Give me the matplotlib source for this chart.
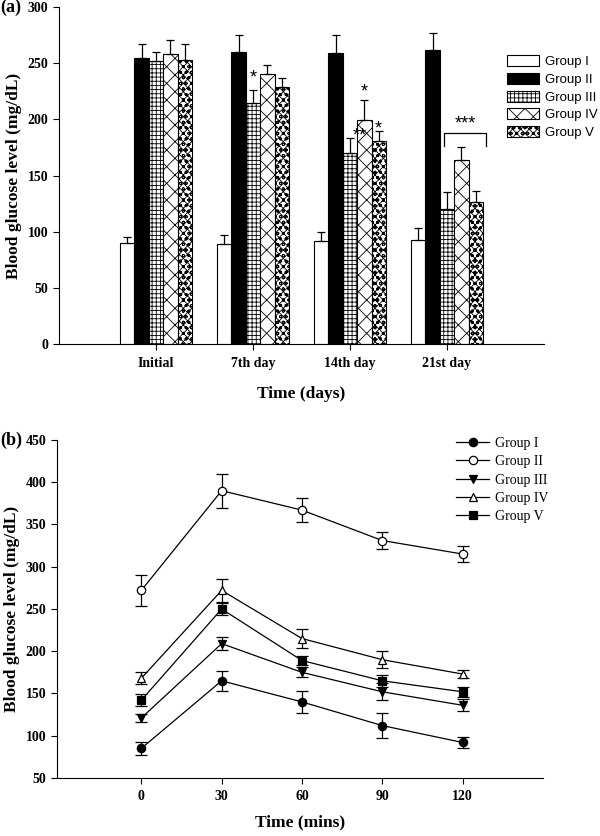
import matplotlib
matplotlib.use("Agg")
import matplotlib.pyplot as plt
import numpy as np
from matplotlib.patches import Patch
from matplotlib.lines import Line2D

# ---------------- data (a) ----------------
days = ["Initial", "7th day", "14th day", "21st day"]
groups = ["Group I", "Group II", "Group III", "Group IV", "Group V"]
bar_g1 = [90, 89, 92, 93]
bar_g2 = [255, 260, 259, 262]
bar_g3 = [252, 215, 170, 120]
bar_g4 = [258, 240, 199, 164]
bar_g5 = [253, 229, 181, 126]
err_g1 = [5, 8, 8, 10]
err_g2 = [12, 15, 16, 15]
err_g3 = [8, 11, 13, 15]
err_g4 = [13, 8, 18, 11]
err_g5 = [14, 8, 9, 10]

# ---------------- data (b) ----------------
times = [0, 30, 60, 90, 120]
ln_g1 = [85, 165, 140, 112, 92]
ln_g2 = [272, 390, 367, 331, 315]
ln_g3 = [121, 209, 175, 152, 136]
ln_g4 = [168, 272, 215, 190, 173]
ln_g5 = [142, 250, 189, 165, 152]
le_g1 = [8, 12, 13, 15, 6]
le_g2 = [18, 20, 14, 10, 9]
le_g3 = [5, 8, 6, 10, 7]
le_g4 = [7, 14, 11, 10, 5]
le_g5 = [7, 7, 5, 7, 6]

serif = "Liberation Serif"
sans = "Liberation Sans"
plt.rcParams["hatch.linewidth"] = 0.6

fig = plt.figure(figsize=(6, 8.36), dpi=100)

# ================= panel (a) =================
axA = fig.add_axes([0.0983, 0.5885, 0.8084, 0.4031])
bar_vals = [bar_g1, bar_g2, bar_g3, bar_g4, bar_g5]
bar_errs = [err_g1, err_g2, err_g3, err_g4, err_g5]
faces = ["white", "black", "white", "white", "white"]
hatches = [None, None, "++++", "xx", "xxxxooo"]
bw = 0.148
xc = np.arange(1, len(days) + 1)
handles = []
for i in range(5):
    xs = xc + (i - 2) * bw
    axA.bar(xs, bar_vals[i], width=bw, color=faces[i], edgecolor="black",
            hatch=hatches[i], linewidth=0.8, zorder=2)
    axA.errorbar(xs, bar_vals[i], yerr=[np.zeros(4), bar_errs[i]], fmt="none",
                 ecolor="black", elinewidth=0.9, capsize=3, capthick=0.9, zorder=3)
    handles.append(Patch(facecolor=faces[i], edgecolor="black", hatch=hatches[i],
                         linewidth=0.8, label=groups[i]))

axA.set_xlim(0, 5)
axA.set_ylim(0, 300)
axA.set_yticks(np.arange(0, 301, 50))
axA.set_xticks(xc)
axA.set_xticklabels(days)
for s in ["top", "right"]:
    axA.spines[s].set_visible(False)
for lab in axA.get_xticklabels() + axA.get_yticklabels():
    lab.set_fontfamily(serif)
    lab.set_fontweight("bold")
    lab.set_fontsize(10)
axA.tick_params(axis="x", pad=5, length=4)
axA.tick_params(axis="y", length=4)
axA.set_xlabel("Time (days)", fontfamily=serif, fontweight="bold", fontsize=12.5, labelpad=12)
axA.set_ylabel("Blood glucose level (mg/dL)", fontfamily=serif, fontweight="bold", fontsize=12.5, labelpad=4)

# significance marks
star_kw = dict(ha="center", va="bottom", fontsize=13, fontfamily=sans)
axA.text(2 + 0 * bw, 229, "*", **star_kw)
axA.text(3 + 0.1, 178, "**", **star_kw)
axA.text(3 + 1 * bw, 217, "*", **star_kw)
axA.text(3 + 2 * bw, 184, "*", **star_kw)
axA.plot([4 - 0.03, 4 - 0.03, 4 + 0.4, 4 + 0.4], [176, 188, 188, 176], color="black", lw=0.9)
axA.text(4 + 0.185, 188, "***", **star_kw)

legA = fig.legend(handles=handles, loc="upper left", bbox_to_anchor=(507 / 600, 1 - 55 / 836),
                  frameon=False, prop={"family": sans, "size": 9.5}, handlelength=2.4,
                  handleheight=0.9, labelspacing=0.36, handletextpad=0.5, borderpad=0,
                  borderaxespad=0)

fig.text(0.0, 0.9916, "(a)", fontfamily=serif, fontweight="bold", fontsize=13, va="center", ha="left")

# ================= panel (b) =================
axB = fig.add_axes([0.0945, 0.0694, 0.8105, 0.4043])
ln_vals = [ln_g1, ln_g2, ln_g3, ln_g4, ln_g5]
ln_errs = [le_g1, le_g2, le_g3, le_g4, le_g5]
markers = ["o", "o", "v", "^", "s"]
mfaces = ["black", "white", "black", "white", "black"]
lhandles = []
for i in range(5):
    axB.errorbar(times, ln_vals[i], yerr=ln_errs[i], color="black", lw=0.9,
                 marker=markers[i], markersize=6, markerfacecolor=mfaces[i],
                 markeredgecolor="black", markeredgewidth=0.9,
                 ecolor="black", elinewidth=0.9, capsize=4, capthick=0.9, zorder=3)
    lhandles.append(Line2D([0], [0], color="black", lw=0.9, marker=markers[i], markersize=6,
                           markerfacecolor=mfaces[i], markeredgecolor="black",
                           markeredgewidth=0.9, label=groups[i]))

axB.set_xlim(-31.6, 150)
axB.set_ylim(50, 450)
axB.set_xticks(times)
axB.set_yticks(np.arange(50, 451, 50))
for s in ["top", "right"]:
    axB.spines[s].set_visible(False)
for lab in axB.get_xticklabels() + axB.get_yticklabels():
    lab.set_fontfamily(serif)
    lab.set_fontweight("bold")
    lab.set_fontsize(10)
axB.tick_params(axis="x", pad=5, length=4)
axB.tick_params(axis="y", length=4)
axB.set_xlabel("Time (mins)", fontfamily=serif, fontweight="bold", fontsize=12.5, labelpad=8)
axB.set_ylabel("Blood glucose level (mg/dL)", fontfamily=serif, fontweight="bold", fontsize=12.5, labelpad=4)

legB = fig.legend(handles=lhandles, loc="upper left", bbox_to_anchor=(456 / 600, 1 - 437 / 836),
                  frameon=False, prop={"family": serif, "size": 10}, handlelength=2.4,
                  labelspacing=0.38, handletextpad=0.4, borderpad=0, borderaxespad=0)

fig.text(0.0, 0.4737, "(b)", fontfamily=serif, fontweight="bold", fontsize=13, va="center", ha="left")

fig.savefig("out.png", dpi=100)
